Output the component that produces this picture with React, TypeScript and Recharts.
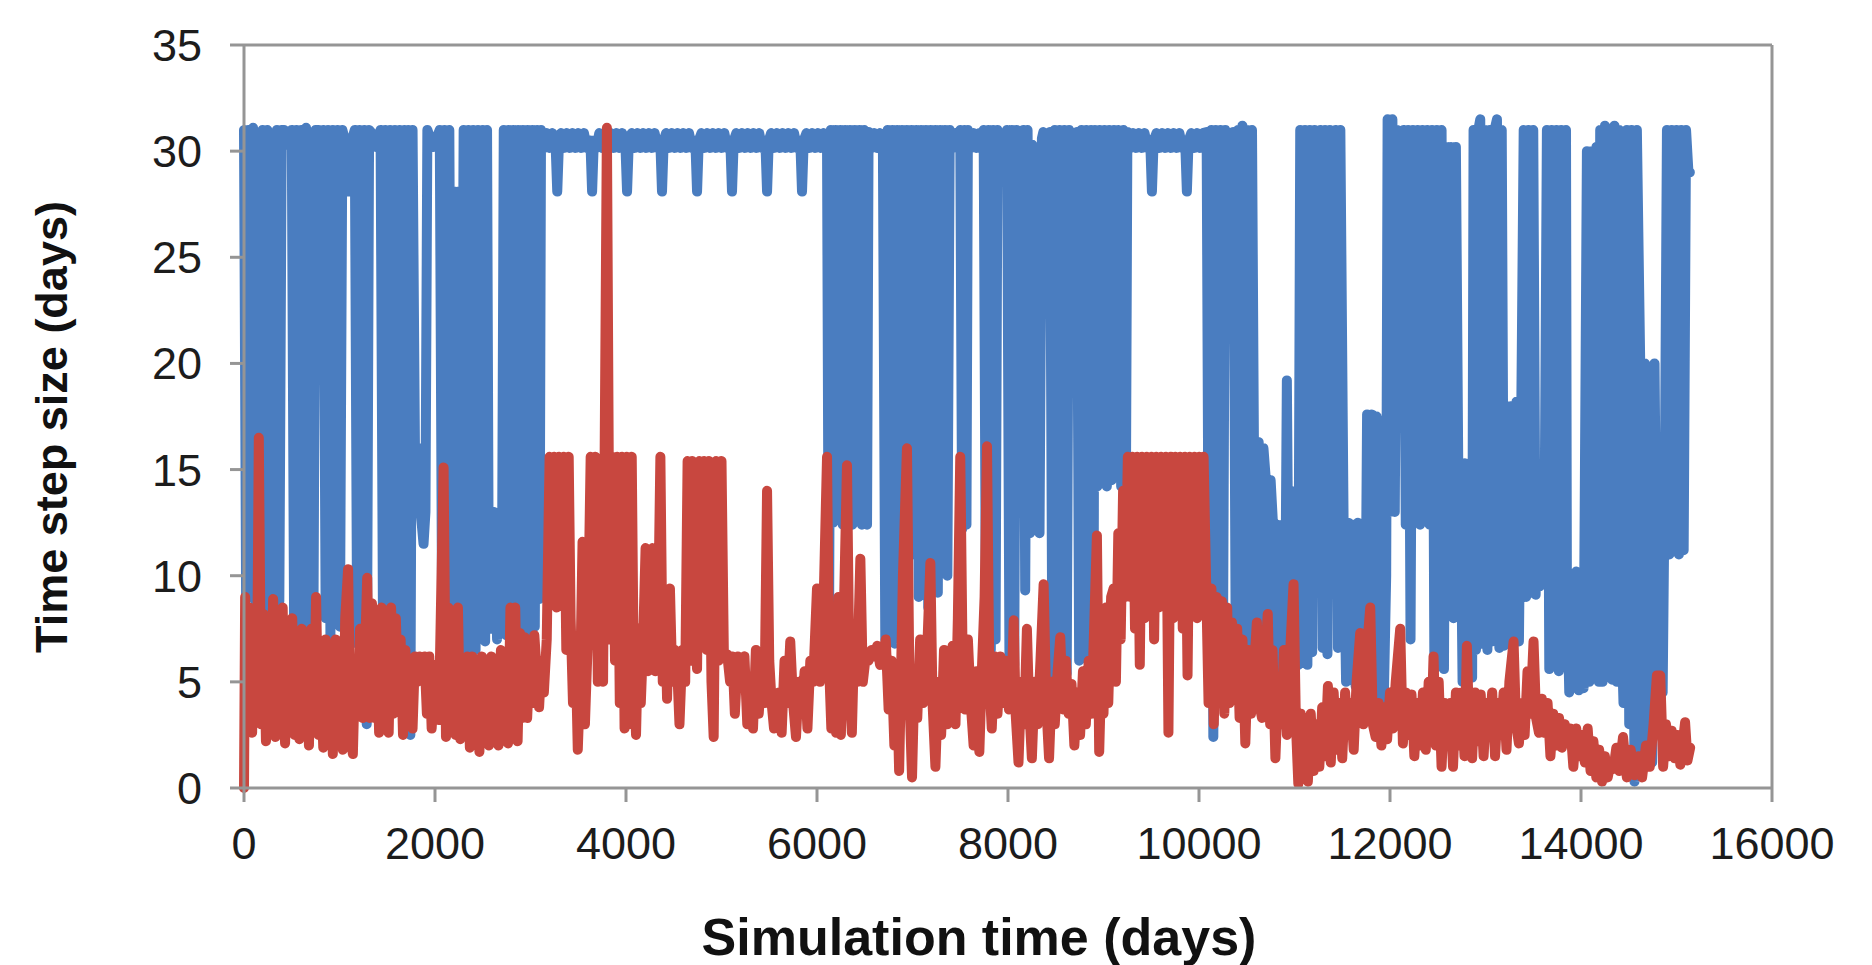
import React from 'react';
import { LineChart, Line, XAxis, YAxis, ReferenceLine } from 'recharts';

// [day, time step size]
const blueSeries: [number, number][] = [
  [0, 31], [22, 8.9], [45, 31], [70, 9.4], [95, 31.1], [120, 8.2], [145, 30.8], [170, 8.6], [195, 31], [220, 7.8],
  [245, 31], [270, 8.3], [295, 30.7], [320, 7.6], [345, 31], [370, 8.8], [395, 31], [420, 31], [460, 30.3], [500, 31],
  [525, 7.2], [550, 31], [575, 6.7], [600, 31], [625, 6.4], [650, 31.1], [675, 7], [700, 30.8], [725, 5.6], [750, 31],
  [780, 31], [805, 30.3], [830, 31], [855, 8], [880, 31], [905, 7.2], [930, 31], [955, 8.6], [980, 31], [1005, 7.6],
  [1030, 31], [1070, 30.3], [1093, 28.1], [1115, 30.3], [1160, 31], [1185, 6.8], [1210, 31], [1235, 5.5], [1260, 31], [1285, 3],
  [1310, 31], [1330, 30.9], [1380, 30.2], [1430, 31], [1455, 8.1], [1480, 31], [1505, 6.5], [1530, 31], [1555, 7.9], [1580, 31],
  [1605, 6.1], [1630, 31], [1655, 8.6], [1680, 31], [1705, 5.5], [1720, 31], [1742, 2.5], [1765, 31], [1790, 16], [1840, 16],
  [1850, 13], [1880, 11.5], [1900, 13], [1920, 31], [1980, 30.2], [2050, 31], [2075, 7.5], [2100, 31], [2125, 6.8], [2150, 31],
  [2175, 7], [2200, 28.1], [2225, 6.6], [2250, 28.1], [2275, 7.2], [2300, 31], [2325, 6.2], [2350, 31], [2375, 7.8], [2400, 31],
  [2425, 6.5], [2450, 31], [2475, 7.4], [2500, 31], [2525, 6.9], [2545, 31], [2560, 13], [2590, 7.5], [2620, 13], [2650, 7],
  [2680, 13], [2700, 8], [2720, 31], [2745, 7.2], [2770, 31], [2795, 6.8], [2820, 31], [2845, 7.5], [2870, 31], [2895, 6.9],
  [2920, 31], [2945, 7.8], [2970, 31], [2995, 7.1], [3020, 31], [3045, 7.6], [3070, 31], [3095, 8.9], [3110, 31], [3140, 30.15],
  [3170, 30.85], [3200, 30.15], [3230, 30.85], [3262, 30.4], [3280, 28.1], [3298, 30.4], [3320, 30.85], [3350, 30.15], [3380, 30.85], [3410, 30.15],
  [3440, 30.85], [3470, 30.15], [3500, 30.85], [3530, 30.15], [3560, 30.85], [3590, 30.15], [3627, 30.5], [3645, 28.1], [3663, 30.5], [3690, 30.15],
  [3720, 30.85], [3750, 30.15], [3780, 30.85], [3810, 30.15], [3840, 30.85], [3870, 30.15], [3900, 30.85], [3930, 30.15], [3960, 30.85], [3993, 30.4],
  [4011, 28.1], [4029, 30.4], [4060, 30.85], [4090, 30.15], [4120, 30.85], [4150, 30.15], [4180, 30.85], [4210, 30.15], [4240, 30.85], [4270, 30.15],
  [4300, 30.85], [4330, 30.15], [4359, 30.5], [4377, 28.1], [4395, 30.5], [4420, 30.85], [4450, 30.15], [4480, 30.85], [4510, 30.15], [4540, 30.85],
  [4570, 30.15], [4600, 30.85], [4630, 30.15], [4660, 30.85], [4690, 30.15], [4726, 30.5], [4744, 28.1], [4762, 30.5], [4790, 30.85], [4820, 30.15],
  [4850, 30.85], [4880, 30.15], [4910, 30.85], [4940, 30.15], [4970, 30.85], [5000, 30.15], [5030, 30.85], [5060, 30.15], [5092, 30.5], [5110, 28.1],
  [5128, 30.5], [5155, 30.85], [5185, 30.15], [5215, 30.85], [5245, 30.15], [5275, 30.85], [5305, 30.15], [5335, 30.85], [5365, 30.15], [5395, 30.85],
  [5425, 30.15], [5459, 30.5], [5477, 28.1], [5495, 30.5], [5520, 30.85], [5550, 30.15], [5580, 30.85], [5610, 30.15], [5640, 30.85], [5670, 30.15],
  [5700, 30.85], [5730, 30.15], [5760, 30.85], [5790, 30.15], [5825, 30.5], [5843, 28.1], [5861, 30.5], [5890, 30.85], [5920, 30.15], [5950, 30.85],
  [5980, 30.15], [6010, 30.85], [6040, 30.15], [6070, 30.85], [6105, 30.4], [6125, 6], [6145, 31], [6170, 12.5], [6195, 31], [6220, 13],
  [6245, 31], [6270, 12.4], [6295, 31], [6320, 12.8], [6345, 31], [6370, 12.4], [6395, 31], [6420, 12.6], [6445, 31], [6470, 12.4],
  [6495, 31], [6524, 12.4], [6540, 30.9], [6570, 30.15], [6600, 30.85], [6630, 30.15], [6660, 30.85], [6690, 30.3], [6715, 7], [6740, 31],
  [6765, 7.2], [6790, 31], [6815, 6.8], [6840, 31], [6865, 12.6], [6890, 31], [6915, 9.8], [6940, 31], [6965, 12.4], [6990, 31],
  [7015, 11], [7040, 31], [7065, 9], [7090, 31], [7115, 12.4], [7140, 31], [7165, 8.5], [7190, 31], [7215, 12], [7240, 31],
  [7265, 9.2], [7290, 31], [7315, 12.4], [7340, 31], [7365, 10], [7390, 31], [7420, 30.15], [7450, 30.85], [7475, 30.2], [7500, 31],
  [7520, 12.2], [7545, 31], [7565, 12.4], [7580, 31], [7610, 30.15], [7640, 30.85], [7670, 30.15], [7700, 30.85], [7725, 30.2], [7745, 31],
  [7770, 6.7], [7795, 31], [7820, 6.5], [7845, 31], [7870, 7], [7890, 31], [7920, 30.15], [7950, 30.85], [7975, 30.2], [7990, 31],
  [8015, 6.2], [8040, 31], [8065, 5.8], [8090, 31], [8125, 30.2], [8160, 31], [8180, 9.3], [8205, 31], [8230, 12], [8255, 30.3],
  [8280, 12.3], [8305, 30], [8330, 12], [8355, 30.6], [8370, 30.9], [8405, 30.15], [8440, 30.9], [8465, 5.1], [8490, 31], [8515, 5.6],
  [8540, 31], [8565, 5.2], [8590, 31], [8615, 5.4], [8640, 31], [8670, 30.15], [8700, 30.85], [8720, 30.9], [8745, 6], [8770, 31],
  [8795, 6.3], [8820, 31], [8845, 5.9], [8870, 31], [8895, 6.5], [8910, 31], [8935, 14.2], [8960, 31], [8985, 14.4], [9010, 31],
  [9035, 14.2], [9060, 31], [9085, 14.5], [9110, 31], [9124, 28.1], [9141, 28.1], [9158, 31], [9185, 14.2], [9210, 31], [9235, 14.3],
  [9250, 30.9], [9280, 30.15], [9310, 30.85], [9340, 30.15], [9370, 30.85], [9400, 30.15], [9430, 30.85], [9460, 30.15], [9489, 30.5], [9507, 28.1],
  [9525, 30.5], [9555, 30.85], [9585, 30.15], [9615, 30.85], [9645, 30.15], [9675, 30.85], [9705, 30.15], [9735, 30.85], [9765, 30.15], [9795, 30.85],
  [9825, 30.15], [9855, 30.5], [9873, 28.1], [9891, 30.5], [9920, 30.85], [9950, 30.15], [9980, 30.85], [10010, 30.15], [10040, 30.85], [10080, 30.9],
  [10105, 5], [10130, 31], [10150, 2.4], [10175, 31], [10200, 4.8], [10225, 31], [10250, 5.5], [10275, 31], [10300, 30.15], [10330, 30.85],
  [10360, 30.9], [10385, 6], [10410, 31], [10435, 6.5], [10455, 31.2], [10480, 5.8], [10505, 31], [10530, 6.4], [10555, 31], [10575, 16.3],
  [10600, 6], [10625, 16.3], [10650, 7], [10675, 16], [10700, 14.5], [10725, 6], [10750, 14.5], [10775, 12.4], [10800, 5.5], [10825, 12.4],
  [10850, 6.5], [10875, 12.4], [10900, 6], [10920, 19.2], [10940, 7], [10965, 14], [10990, 6], [11015, 12.4], [11040, 5.8], [11060, 31],
  [11085, 6.2], [11110, 31], [11135, 5.8], [11160, 31], [11185, 6.4], [11210, 31], [11240, 30.2], [11270, 31], [11295, 6.6], [11320, 31],
  [11345, 6.3], [11370, 31], [11400, 30.2], [11430, 31], [11455, 6.6], [11480, 31], [11514, 12.5], [11540, 5], [11565, 12.5], [11590, 5.2],
  [11615, 12.4], [11640, 4.8], [11665, 12.5], [11690, 5], [11715, 10], [11740, 5], [11760, 17.6], [11785, 4.5], [11810, 17.6], [11835, 4],
  [11860, 17.5], [11885, 4.5], [11910, 17.3], [11935, 4.2], [11960, 10], [11975, 31.5], [12000, 13], [12025, 31.5], [12050, 13], [12073, 31],
  [12105, 30.2], [12142, 31], [12165, 12.4], [12190, 31], [12215, 7], [12240, 31], [12265, 12.5], [12290, 31], [12315, 12.4], [12340, 31],
  [12365, 12.6], [12390, 31], [12415, 12.4], [12440, 31], [12465, 5.6], [12490, 31], [12515, 5.8], [12540, 31], [12565, 5.6], [12590, 30.2],
  [12615, 15], [12640, 30.2], [12665, 8], [12690, 30.2], [12715, 15], [12736, 15.3], [12760, 5], [12785, 15.3], [12810, 5.5], [12835, 15.3],
  [12860, 5.2], [12875, 31], [12900, 6.5], [12925, 31], [12945, 31.5], [12970, 6.8], [12995, 31], [13020, 6.5], [13045, 31], [13070, 6.9],
  [13095, 31], [13120, 31.5], [13145, 6.6], [13170, 31], [13195, 6.7], [13224, 18], [13250, 7], [13275, 18], [13300, 7.2], [13325, 18.2],
  [13350, 6.9], [13375, 18], [13400, 31], [13425, 9], [13450, 31], [13475, 9.2], [13500, 31], [13525, 9.1], [13538, 12], [13565, 9.5],
  [13590, 12], [13615, 9.6], [13643, 31], [13668, 5.6], [13693, 31], [13718, 5.8], [13743, 31], [13768, 5.5], [13793, 31], [13818, 5.7],
  [13843, 31], [13852, 10], [13877, 4.5], [13902, 10], [13927, 4.8], [13952, 10.2], [13977, 4.6], [14002, 10], [14027, 4.7], [14062, 30],
  [14087, 5], [14112, 30], [14137, 5.2], [14162, 30.2], [14187, 5], [14201, 31], [14226, 5], [14251, 31.2], [14276, 5.3], [14301, 31],
  [14326, 5.1], [14351, 31.2], [14376, 5], [14401, 31], [14420, 8], [14445, 4], [14470, 8], [14480, 31], [14505, 3], [14530, 31],
  [14560, 0.3], [14585, 31], [14620, 20], [14645, 1], [14670, 20], [14695, 1.5], [14720, 19.5], [14745, 1.2], [14770, 20], [14800, 4],
  [14830, 16], [14855, 4.5], [14880, 16], [14900, 31], [14925, 11], [14950, 31], [14975, 11.5], [15000, 31], [15025, 11], [15050, 31],
  [15075, 11.2], [15100, 31], [15125, 29], [15140, 29],
];

const redSeries: [number, number][] = [
  [0, 0], [12, 9], [35, 3], [60, 8.5], [85, 2.6], [110, 8], [135, 3.5], [155, 16.5], [180, 3], [205, 8.2],
  [230, 2.2], [255, 7.5], [280, 2.6], [305, 8.9], [330, 2.4], [355, 6.5], [380, 3], [405, 8.5], [430, 2.1], [455, 6],
  [480, 3.3], [505, 8], [530, 2.5], [555, 6.5], [580, 2.3], [605, 7.5], [630, 3.5], [655, 6], [680, 2], [705, 7.5],
  [730, 3], [755, 9], [780, 2.5], [805, 5.5], [830, 1.9], [855, 7], [880, 3], [905, 6.5], [930, 1.6], [960, 7],
  [985, 3.5], [1010, 5.5], [1035, 1.8], [1060, 8], [1090, 10.3], [1115, 2.5], [1140, 1.6], [1165, 6], [1190, 3.5], [1215, 7.5],
  [1240, 3.3], [1265, 6], [1290, 9.9], [1315, 3.3], [1340, 8.7], [1365, 3.3], [1390, 7], [1415, 2.6], [1440, 8.5], [1465, 3],
  [1490, 6], [1515, 2.6], [1540, 8.5], [1565, 3.5], [1590, 8], [1615, 4], [1640, 7], [1665, 2.5], [1690, 6.5], [1715, 3],
  [1740, 5.8], [1765, 2.8], [1790, 6.2], [1815, 5], [1840, 6.2], [1865, 5.5], [1890, 6.2], [1915, 3.5], [1940, 6.2], [1965, 2.8],
  [2000, 5.8], [2040, 3.2], [2090, 15.1], [2115, 2.4], [2140, 8.5], [2165, 3], [2190, 7.8], [2215, 2.5], [2240, 8.5], [2265, 2.3],
  [2290, 6], [2315, 2.8], [2340, 6.2], [2365, 1.9], [2390, 6.2], [2415, 2.5], [2440, 5.5], [2465, 1.7], [2490, 6.2], [2515, 2.4],
  [2540, 5], [2565, 2], [2590, 6.2], [2615, 3], [2640, 5], [2665, 2], [2690, 6.5], [2715, 3.5], [2740, 6], [2765, 2.1],
  [2790, 8.5], [2815, 3.5], [2840, 8.5], [2865, 2.2], [2890, 7.3], [2915, 3.3], [2940, 7.1], [2965, 3.3], [2990, 6], [3015, 4],
  [3040, 7.2], [3065, 5.5], [3090, 3.8], [3115, 6], [3140, 4.5], [3170, 7], [3200, 15.6], [3225, 10], [3250, 15.6], [3275, 8.5],
  [3300, 15.6], [3325, 10], [3350, 15.6], [3375, 6.5], [3400, 15.6], [3420, 8], [3445, 4], [3470, 7], [3495, 1.8], [3520, 5],
  [3545, 11.6], [3570, 3], [3600, 7], [3630, 15.6], [3655, 7], [3680, 15.6], [3705, 5], [3730, 9], [3760, 5], [3800, 31.1],
  [3830, 7], [3860, 15.6], [3885, 6], [3910, 15.6], [3935, 4], [3960, 15.6], [3985, 2.8], [4010, 15.6], [4035, 3], [4060, 15.6],
  [4080, 6], [4105, 2.5], [4130, 7.5], [4155, 4], [4180, 7], [4205, 11.3], [4230, 5.5], [4255, 10], [4280, 11.3], [4305, 5.5],
  [4330, 6], [4360, 15.6], [4385, 5], [4410, 8], [4430, 4.2], [4460, 9.4], [4485, 5], [4510, 6.5], [4535, 5.8], [4560, 3],
  [4590, 6.5], [4620, 5], [4645, 15.4], [4670, 6], [4695, 15.4], [4720, 8], [4744, 5.6], [4770, 15.4], [4795, 7], [4820, 15.4],
  [4845, 6.5], [4870, 15.4], [4895, 5], [4918, 2.4], [4945, 15.4], [4970, 6], [5000, 15.4], [5025, 6.2], [5060, 6.3], [5090, 5],
  [5115, 6.2], [5140, 3.5], [5170, 6.2], [5200, 5.5], [5240, 6.2], [5270, 3], [5300, 5], [5330, 2.8], [5360, 6.5], [5390, 3.5],
  [5420, 5.5], [5450, 4], [5477, 14], [5500, 6], [5525, 4], [5550, 2.8], [5575, 3.5], [5600, 4.5], [5630, 2.6], [5660, 6],
  [5690, 4], [5720, 6.9], [5750, 4], [5780, 2.4], [5810, 5], [5840, 3.5], [5870, 5.5], [5900, 2.8], [5930, 6], [5960, 5],
  [6000, 9.4], [6030, 5], [6060, 7], [6105, 15.6], [6125, 6], [6150, 2.8], [6175, 6.7], [6200, 2.6], [6225, 9], [6250, 2.5],
  [6275, 7], [6314, 15.2], [6340, 5], [6365, 2.6], [6390, 7], [6420, 5], [6454, 10.8], [6480, 5], [6510, 6.2], [6540, 6],
  [6570, 6.5], [6600, 6.2], [6630, 6.7], [6660, 5.8], [6690, 6.2], [6720, 7], [6750, 3.7], [6780, 6], [6810, 2], [6838, 5],
  [6860, 0.8], [6900, 10], [6942, 16], [6970, 4], [6995, 0.5], [7020, 5], [7050, 3.3], [7080, 7], [7110, 4], [7150, 6],
  [7187, 10.6], [7210, 4], [7240, 1], [7270, 5], [7300, 2.5], [7330, 6.5], [7360, 3], [7390, 5], [7420, 6.7], [7450, 3],
  [7475, 8], [7500, 15.6], [7525, 6], [7550, 3.7], [7580, 7], [7610, 4], [7640, 2], [7670, 5.5], [7700, 1.7], [7730, 6],
  [7755, 9], [7780, 16.1], [7805, 5], [7830, 2.8], [7860, 6.2], [7890, 3.5], [7920, 6.2], [7950, 4], [7980, 6], [8010, 3.7],
  [8040, 5], [8060, 7.9], [8080, 3.5], [8110, 1.2], [8140, 5], [8170, 3], [8198, 7.5], [8220, 4], [8250, 1.4], [8280, 5],
  [8310, 3], [8340, 6], [8373, 9.6], [8400, 4], [8430, 1.4], [8460, 5], [8490, 3], [8520, 5.5], [8547, 7.1], [8575, 3.7],
  [8605, 6], [8635, 3.5], [8665, 4.9], [8695, 2], [8725, 4.5], [8755, 2.5], [8785, 5.5], [8815, 3], [8845, 6], [8875, 3.5],
  [8905, 8], [8931, 11.9], [8955, 1.7], [8980, 6], [9000, 3.5], [9025, 8.5], [9050, 4], [9080, 9], [9106, 9.4], [9130, 5],
  [9155, 12], [9180, 7], [9205, 14], [9230, 9], [9255, 15.6], [9280, 9], [9305, 15.6], [9330, 7.5], [9355, 15.6], [9380, 5.8],
  [9405, 15.6], [9430, 8], [9455, 15.6], [9480, 9.5], [9505, 15.6], [9530, 7], [9555, 15.6], [9580, 8.5], [9605, 15.6], [9630, 10],
  [9655, 15.6], [9680, 2.6], [9705, 15.6], [9730, 8], [9755, 15.6], [9780, 9], [9805, 15.6], [9830, 7.5], [9855, 15.6], [9880, 5.3],
  [9905, 15.6], [9930, 9], [9955, 15.6], [9980, 8], [10005, 15.6], [10030, 9], [10048, 15.6], [10075, 9.6], [10100, 4], [10130, 9.4],
  [10155, 3], [10185, 9], [10210, 4.5], [10240, 8.8], [10265, 3.5], [10295, 8.5], [10320, 4], [10345, 7.8], [10370, 5], [10400, 7.5],
  [10425, 3.3], [10455, 7], [10485, 2.1], [10515, 6.5], [10545, 3.5], [10575, 5.5], [10606, 7.8], [10630, 4], [10660, 3.3], [10690, 6],
  [10720, 8.2], [10745, 3], [10770, 6.5], [10800, 1.4], [10830, 5], [10860, 3], [10890, 6.5], [10920, 2.5], [10950, 6], [10990, 9.6],
  [11015, 3], [11040, 0.2], [11065, 3.5], [11090, 0.5], [11115, 3.3], [11140, 0.3], [11170, 3.5], [11200, 0.8], [11230, 3], [11260, 1],
  [11290, 3.8], [11320, 1.5], [11350, 4.8], [11380, 1.2], [11410, 4.5], [11440, 1.8], [11470, 4], [11500, 1.4], [11530, 4.5], [11560, 2.5],
  [11590, 4], [11620, 1.8], [11650, 5], [11688, 7.3], [11720, 3], [11750, 6], [11793, 8.5], [11820, 3], [11850, 2.4], [11880, 4],
  [11910, 2], [11940, 3.8], [11970, 2.3], [12000, 4.5], [12030, 2.8], [12060, 5], [12107, 7.5], [12135, 2.1], [12165, 4.5], [12195, 2.5],
  [12225, 4.4], [12255, 1.5], [12285, 4], [12315, 2], [12345, 4.5], [12375, 1.8], [12405, 5], [12435, 3], [12456, 6.2], [12480, 2],
  [12510, 5], [12540, 1], [12570, 4], [12600, 2.3], [12630, 4], [12660, 1], [12690, 4.5], [12720, 2], [12750, 4.5], [12780, 1.5],
  [12805, 6.7], [12830, 2.5], [12860, 1.4], [12890, 4.5], [12920, 2.2], [12950, 4.4], [12980, 1.5], [13010, 4], [13040, 2.6], [13070, 4.5],
  [13100, 1.5], [13130, 4], [13160, 2.5], [13190, 4.5], [13220, 1.8], [13250, 5], [13294, 6.9], [13320, 3], [13350, 2.1], [13380, 4],
  [13410, 2.5], [13440, 5.5], [13470, 3.5], [13503, 6.9], [13530, 3.3], [13560, 2.6], [13590, 4.2], [13620, 2.6], [13650, 4], [13680, 1.5],
  [13710, 3.5], [13740, 2], [13770, 3.3], [13800, 1.9], [13830, 3], [13860, 2.3], [13890, 2.8], [13920, 1], [13950, 2.8], [13980, 1.5],
  [14010, 2.5], [14040, 1.2], [14070, 2.8], [14100, 0.8], [14130, 2.2], [14160, 0.5], [14190, 1.8], [14220, 0.3], [14250, 1.5], [14280, 0.5],
  [14310, 1.2], [14340, 0.9], [14370, 1.9], [14400, 0.8], [14440, 2.4], [14480, 0.5], [14520, 1.8], [14560, 0.6], [14600, 1.5], [14640, 0.5],
  [14680, 2], [14720, 1], [14760, 3], [14795, 5.3], [14830, 5.3], [14860, 1], [14890, 3], [14920, 1.5], [14950, 2.7], [14980, 1.4],
  [15010, 2.5], [15040, 1.1], [15090, 3.1], [15115, 1.3], [15143, 1.9],
];

const xTicks = [0, 2000, 4000, 6000, 8000, 10000, 12000, 14000, 16000];
const yTicks = [0, 5, 10, 15, 20, 25, 30, 35];

const toRows = (pts: [number, number][]) => pts.map(([day, step]) => ({ day, step }));

const FONT = '"Liberation Sans", Arial, sans-serif';
const AXIS = '#959595';

export default function App() {
  const tickStyle = { fontSize: 45, fill: '#1c1c1c', fontFamily: FONT };
  return (
    <div style={{ position: 'relative', width: 1864, height: 957, fontFamily: FONT }}>
      <LineChart width={1864} height={957} margin={{ top: 37, right: 100, left: 136, bottom: 97 }}>
        <XAxis
          type="number"
          dataKey="day"
          domain={[0, 16000]}
          ticks={xTicks}
          interval={0}
          height={80}
          tickSize={14}
          tickMargin={25}
          stroke={AXIS}
          strokeWidth={3}
          tick={tickStyle}
        />
        <YAxis
          type="number"
          domain={[0, 35]}
          ticks={yTicks}
          interval={0}
          width={100}
          tickSize={14}
          tickMargin={28}
          stroke={AXIS}
          strokeWidth={3}
          tick={tickStyle}
        />
        <ReferenceLine y={35} stroke={AXIS} strokeWidth={3} />
        <ReferenceLine x={16000} stroke={AXIS} strokeWidth={3} />
        <Line
          data={toRows(blueSeries)}
          dataKey="step"
          type="linear"
          stroke="#4a7dc0"
          strokeWidth={10}
          strokeLinejoin="round"
          strokeLinecap="round"
          dot={false}
          isAnimationActive={false}
        />
        <Line
          data={toRows(redSeries)}
          dataKey="step"
          type="linear"
          stroke="#c8473f"
          strokeWidth={10}
          strokeLinejoin="round"
          strokeLinecap="round"
          dot={false}
          isAnimationActive={false}
        />
      </LineChart>
      <div
        style={{
          position: 'absolute',
          left: 43,
          top: 419,
          transform: 'translate(-50%, -50%) rotate(-90deg)',
          whiteSpace: 'nowrap',
          fontSize: 45,
          lineHeight: '45px',
          fontWeight: 'bold',
          color: '#111',
        }}
      >
        Time step size (days)
      </div>
      <div
        style={{
          position: 'absolute',
          left: 971,
          top: 903,
          transform: 'translateX(-50%)',
          whiteSpace: 'nowrap',
          fontSize: 52,
          lineHeight: '52px',
          fontWeight: 'bold',
          color: '#111',
        }}
      >
        Simulation time (days)
      </div>
    </div>
  );
}
